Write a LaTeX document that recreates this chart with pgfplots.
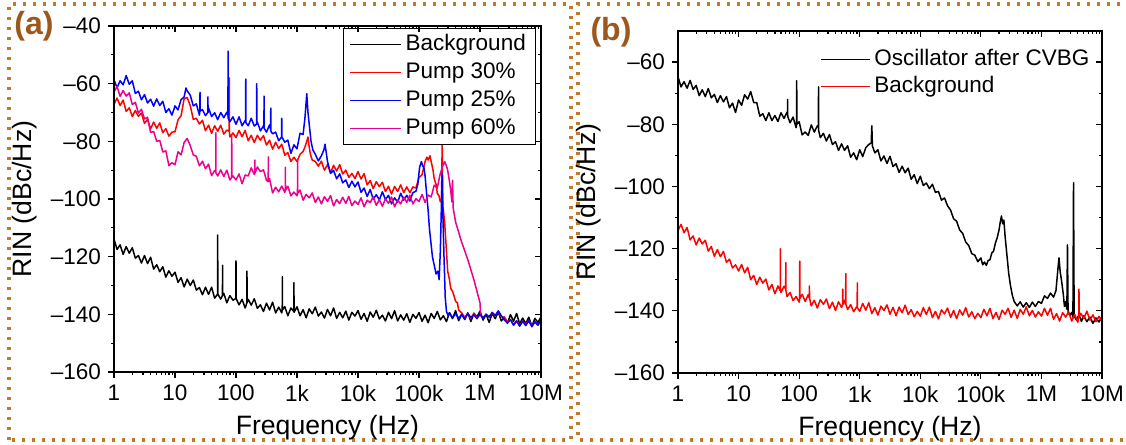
\documentclass[border=0pt]{standalone}
\usepackage{fontspec}
\setmainfont{Liberation Sans}
\usepackage{pgfplots}
\pgfplotsset{compat=1.18}
\definecolor{panelbrown}{RGB}{156,88,28}
\definecolor{dotbrown}{RGB}{192,122,42}
\pgfplotsset{
  rinbase/.style={
    scale only axis,
    xmin=0, xmax=7,
    xtick={0,1,2,3,4,5,6,7},
    minor xtick={0.301,0.477,0.602,0.699,0.778,0.845,0.903,0.954,
      1.301,1.477,1.602,1.699,1.778,1.845,1.903,1.954,
      2.301,2.477,2.602,2.699,2.778,2.845,2.903,2.954,
      3.301,3.477,3.602,3.699,3.778,3.845,3.903,3.954,
      4.301,4.477,4.602,4.699,4.778,4.845,4.903,4.954,
      5.301,5.477,5.602,5.699,5.778,5.845,5.903,5.954,
      6.301,6.477,6.602,6.699,6.778,6.845,6.903,6.954},
    minor y tick num=1,
    major tick length=3pt,
    minor tick length=1.6pt,
    axis line style={line width=0.7pt},
    every tick/.append style={line width=0.6pt, black},
    tick label style={font=\fontsize{11.25}{13}\selectfont},
    /pgf/number format/assume math mode=true,
  },
  rinmain/.style={rinbase, xtick pos=bottom, ytick pos=left, tick align=outside,
    xticklabels={1,10,100,1k,10k,100k,1M,10M},
    label style={font=\fontsize{13.3}{15}\selectfont},
    xlabel={Frequency (Hz)}, ylabel={RIN (dBc/Hz)},
    every axis plot/.append style={line width=0.75pt, line join=round},
  },
  rinmirror/.style={rinbase, xtick pos=top, ytick pos=right, tick align=inside,
    xticklabels={}, yticklabels={}},
}
\begin{document}
\begin{tikzpicture}
\useasboundingbox (0,0) rectangle (563pt,222.5pt);
% dotted frames
\draw[dotbrown, line width=1.6pt, dash pattern=on 1.6pt off 3.4pt] (4.5pt,2.5pt) rectangle (285.5pt,220.5pt);
\draw[dotbrown, line width=1.6pt, dash pattern=on 1.6pt off 3.4pt] (565pt,220.5pt) -- (289pt,220.5pt) -- (289pt,2.5pt) -- (565pt,2.5pt);
\node[font=\fontsize{16}{18}\selectfont\bfseries, text=panelbrown] at (17pt,209.5pt) {(a)};
\node[font=\fontsize{16}{18}\selectfont\bfseries, text=panelbrown] at (305.5pt,206.5pt) {(b)};

% ---------------- panel (a)
\begin{axis}[rinmain, at={(57pt,36.5pt)}, anchor=south west, width=213.5pt, height=173pt,
  ymin=-160, ymax=-40, ytick={-160,-140,...,-40},
  yticklabels={--160,--140,--120,--100,--80,--60,--40},
  legend image code/.code={\draw[#1, line width=0.5pt] (0pt,0pt) -- (25.5pt,0pt);},
  legend style={at={(0.989,0.9934)}, anchor=north east, draw=black, line width=0.5pt,
    inner xsep=3pt, inner ysep=1pt,
    nodes={inner sep=2pt, text height=8.1pt, text depth=1.9pt},
    font=\fontsize{11.25}{13}\selectfont, cells={anchor=west}},
  legend entries={Background, Pump 30\%, Pump 25\%, Pump 60\%}]
\addplot[black] coordinates {(0.00,-113.9)(0.05,-117.5)(0.10,-115.9)(0.15,-119.2)(0.20,-116.5)(0.25,-118.8)(0.30,-116.9)(0.35,-120.5)(0.40,-119.6)(0.45,-122.2)(0.50,-119.6)(0.55,-122.4)(0.60,-120.2)(0.65,-124.3)(0.70,-122.8)(0.75,-125.2)(0.80,-123.5)(0.85,-127.1)(0.90,-124.9)(0.95,-126.8)(1.00,-125.4)(1.05,-128.9)(1.10,-127.3)(1.15,-130.5)(1.20,-127.8)(1.25,-130.0)(1.30,-128.1)(1.35,-131.6)(1.40,-130.7)(1.45,-133.2)(1.50,-130.6)(1.55,-133.1)(1.60,-130.6)(1.65,-134.4)(1.698,-133.0)(1.70,-112.5)(1.702,-133.0)(1.75,-134.7)(1.778,-133.5)(1.78,-123)(1.782,-133.5)(1.80,-132.7)(1.85,-136.0)(1.90,-133.5)(1.95,-135.1)(1.998,-134.5)(2.00,-121.5)(2.002,-134.5)(2.05,-136.7)(2.10,-134.8)(2.15,-137.8)(2.178,-136)(2.18,-125)(2.182,-136)(2.20,-134.8)(2.25,-136.8)(2.30,-134.6)(2.35,-137.9)(2.40,-136.7)(2.45,-139.0)(2.50,-136.1)(2.55,-138.5)(2.60,-135.8)(2.65,-139.5)(2.70,-137.5)(2.75,-139.5)(2.758,-138.5)(2.76,-127)(2.762,-138.5)(2.80,-137.3)(2.85,-140.5)(2.90,-137.8)(2.948,-139)(2.95,-129)(2.952,-139.3)(3.00,-137.4)(3.05,-140.5)(3.10,-138.4)(3.15,-141.2)(3.20,-138.1)(3.25,-139.8)(3.30,-137.5)(3.35,-140.6)(3.40,-139.2)(3.45,-141.3)(3.50,-138.3)(3.55,-140.5)(3.60,-137.8)(3.65,-141.4)(3.70,-139.3)(3.75,-141.2)(3.80,-138.9)(3.85,-142.0)(3.90,-139.3)(3.95,-140.6)(4.00,-138.7)(4.05,-141.7)(4.10,-139.7)(4.15,-142.4)(4.20,-139.2)(4.25,-141.0)(4.30,-138.6)(4.35,-141.6)(4.40,-140.3)(4.45,-142.3)(4.50,-139.3)(4.55,-141.5)(4.60,-138.7)(4.65,-142.3)(4.70,-140.2)(4.75,-142.0)(4.80,-139.8)(4.85,-142.8)(4.90,-140.0)(4.95,-141.4)(5.00,-139.4)(5.05,-142.4)(5.10,-140.3)(5.15,-142.9)(5.20,-139.7)(5.25,-141.4)(5.30,-139.0)(5.35,-141.9)(5.40,-140.5)(5.45,-142.5)(5.50,-139.4)(5.55,-141.5)(5.60,-138.7)(5.65,-142.2)(5.70,-140.0)(5.75,-141.8)(5.80,-139.5)(5.85,-142.5)(5.90,-139.6)(5.95,-140.9)(6.00,-138.9)(6.05,-142.0)(6.10,-140.0)(6.15,-142.8)(6.20,-139.7)(6.25,-141.5)(6.30,-139.2)(6.35,-142.3)(6.40,-141.0)(6.45,-143.1)(6.50,-140.1)(6.55,-142.4)(6.60,-139.7)(6.65,-143.3)(6.70,-141.3)(6.75,-143.2)(6.80,-141.0)(6.85,-144.1)(6.90,-141.4)(6.95,-142.8)(7.00,-140.9)};
\addplot[red] coordinates {(0.00,-67.2)(0.05,-65.0)(0.10,-67.6)(0.15,-65.7)(0.20,-69.6)(0.25,-68.4)(0.30,-71.4)(0.35,-69.3)(0.40,-71.3)(0.45,-70.2)(0.50,-73.8)(0.55,-72.4)(0.60,-75.7)(0.65,-73.3)(0.70,-75.5)(0.75,-73.6)(0.80,-77.0)(0.85,-75.6)(0.90,-78.2)(0.95,-76.8)(1.00,-76.7)(1.05,-72.5)(1.10,-71.1)(1.15,-65.2)(1.20,-64.8)(1.25,-67.6)(1.30,-72.4)(1.35,-72.0)(1.40,-74.0)(1.45,-72.7)(1.50,-76.3)(1.55,-74.4)(1.60,-77.2)(1.65,-74.6)(1.70,-76.5)(1.75,-74.4)(1.80,-77.5)(1.85,-76.1)(1.888,-76.5)(1.89,-58)(1.892,-77)(1.90,-78.5)(1.95,-77.1)(2.00,-78.7)(2.05,-76.2)(2.10,-78.4)(2.15,-76.2)(2.20,-79.8)(2.25,-77.9)(2.30,-80.4)(2.35,-77.9)(2.40,-79.6)(2.45,-78.0)(2.50,-81.3)(2.55,-79.6)(2.60,-82.7)(2.65,-80.3)(2.70,-82.5)(2.75,-81.0)(2.80,-84.8)(2.85,-83.9)(2.90,-87.0)(2.95,-85.5)(3.00,-87.0)(3.05,-84.5)(3.10,-83.5)(3.13,-82)(3.16,-80)(3.18,-78.5)(3.20,-82)(3.22,-84.5)(3.25,-86.5)(3.30,-87.0)(3.35,-88.6)(3.40,-86.9)(3.45,-90.0)(3.50,-88.1)(3.55,-91.0)(3.60,-88.3)(3.65,-90.3)(3.70,-88.1)(3.75,-91.3)(3.80,-90.0)(3.85,-92.5)(3.90,-91.1)(3.95,-92.9)(4.00,-90.5)(4.05,-93.1)(4.10,-91.2)(4.15,-95.1)(4.20,-93.6)(4.25,-96.4)(4.30,-94.0)(4.35,-95.7)(4.40,-94.2)(4.45,-97.4)(4.50,-95.6)(4.55,-98.3)(4.60,-95.6)(4.65,-97.4)(4.70,-95.1)(4.75,-97.8)(4.80,-95.8)(4.85,-97.8)(4.90,-95.8)(4.95,-96.2)(5.00,-92.5)(5.05,-91.6)(5.10,-87.0)(5.13,-85.5)(5.15,-86.5)(5.18,-85)(5.20,-87)(5.23,-90)(5.25,-93)(5.28,-95)(5.30,-98)(5.33,-99)(5.35,-101)(5.37,-100)(5.38,-80)(5.39,-102)(5.42,-108)(5.45,-118)(5.47,-125)(5.50,-128)(5.52,-131)(5.55,-132)(5.58,-134)(5.60,-135.5)(5.63,-136)(5.65,-138.5)(5.70,-139.5)(5.75,-141.0)(5.80,-140.0)(5.85,-141.3)(5.90,-139.8)(5.95,-141.0)(6.00,-140.2)(6.05,-141.2)(6.10,-139.9)(6.15,-140.8)(6.20,-139.6)(6.25,-140.5)(6.30,-139.0)(6.35,-140.8)(6.40,-141.0)(6.45,-142.6)(6.50,-141.8)(6.55,-143.6)(6.60,-142.2)(6.65,-143.9)(6.70,-142.4)(6.75,-143.5)(6.80,-142.1)(6.85,-144.0)(6.90,-142.5)(6.95,-143.8)(7.00,-142.2)};
\addplot[blue] coordinates {(0.00,-58.7)(0.05,-61.4)(0.10,-59.0)(0.15,-60.4)(0.20,-57.2)(0.25,-60.2)(0.30,-59.0)(0.35,-63.4)(0.40,-62.6)(0.45,-65.6)(0.50,-63.8)(0.55,-66.7)(0.60,-65.4)(0.65,-67.8)(0.70,-65.3)(0.75,-67.6)(0.80,-66.1)(0.85,-70.0)(0.90,-68.7)(0.95,-70.9)(1.00,-67.7)(1.05,-69.1)(1.10,-65.5)(1.15,-64.6)(1.18,-61.5)(1.20,-62.5)(1.25,-64.0)(1.30,-67.7)(1.35,-67.0)(1.40,-70.9)(1.408,-69.5)(1.41,-63)(1.412,-69.5)(1.45,-69.0)(1.50,-71.1)(1.538,-70)(1.54,-64.6)(1.542,-70)(1.55,-68.4)(1.60,-71.4)(1.65,-70.1)(1.70,-72.5)(1.75,-70.0)(1.80,-71.8)(1.85,-69.9)(1.868,-71)(1.87,-48.7)(1.872,-72)(1.90,-73.2)(1.95,-71.5)(2.00,-74.1)(2.05,-71.5)(2.10,-74.6)(2.15,-72.8)(2.158,-73)(2.16,-58.4)(2.162,-73.5)(2.20,-74.6)(2.25,-72.0)(2.30,-74.7)(2.338,-74)(2.34,-60)(2.342,-74)(2.35,-73.3)(2.40,-76.4)(2.45,-74.6)(2.458,-75)(2.46,-64.3)(2.462,-75.5)(2.50,-76.8)(2.55,-74.3)(2.568,-76)(2.57,-68.5)(2.572,-76.5)(2.60,-77.4)(2.65,-76.8)(2.70,-79.8)(2.748,-78.5)(2.75,-72)(2.752,-78.5)(2.80,-80.3)(2.85,-79.6)(2.90,-84.2)(2.95,-81.2)(3.00,-82.6)(3.05,-77.2)(3.10,-77.6)(3.13,-72)(3.16,-63.5)(3.18,-70)(3.20,-74)(3.23,-80)(3.26,-83)(3.30,-84.5)(3.35,-86.8)(3.40,-85.0)(3.44,-83)(3.46,-81)(3.48,-84)(3.50,-87.0)(3.55,-91.1)(3.60,-90.1)(3.65,-93.0)(3.70,-91.3)(3.75,-94.4)(3.80,-93.4)(3.85,-96.0)(3.90,-93.8)(3.95,-95.8)(4.00,-94.1)(4.05,-97.7)(4.10,-96.2)(4.15,-99.1)(4.20,-96.7)(4.25,-100.1)(4.30,-98.5)(4.35,-100.3)(4.40,-97.5)(4.45,-100.2)(4.50,-98.7)(4.55,-101.7)(4.60,-99.6)(4.65,-101.1)(4.70,-98.0)(4.75,-100.4)(4.80,-98.7)(4.85,-100.7)(4.90,-97.8)(4.95,-97.3)(4.98,-95)(5.01,-89)(5.04,-87)(5.06,-88.5)(5.08,-89)(5.10,-92)(5.12,-97)(5.15,-104)(5.17,-110)(5.20,-116)(5.22,-120)(5.25,-123)(5.28,-126)(5.31,-125)(5.33,-128)(5.35,-118)(5.37,-100)(5.38,-91)(5.39,-104)(5.41,-120)(5.43,-134)(5.45,-139)(5.48,-140.5)(5.50,-139.5)(5.55,-141.2)(5.60,-139.8)(5.65,-141.4)(5.70,-140.0)(5.75,-141.6)(5.80,-139.7)(5.85,-141.1)(5.90,-140.2)(5.95,-141.5)(6.00,-139.9)(6.05,-141.3)(6.10,-140.1)(6.15,-141.0)(6.20,-139.3)(6.25,-140.4)(6.30,-138.8)(6.35,-140.5)(6.40,-142.0)(6.45,-143.0)(6.50,-141.8)(6.55,-143.8)(6.60,-142.3)(6.65,-144.1)(6.70,-142.4)(6.75,-143.9)(6.80,-142.2)(6.85,-144.3)(6.90,-142.6)(6.95,-143.7)(7.00,-141.5)};
\addplot[magenta] coordinates {(0.00,-62.9)(0.05,-60.9)(0.10,-64.4)(0.15,-62.4)(0.20,-64.3)(0.25,-63.2)(0.30,-67.2)(0.35,-66.5)(0.40,-70.2)(0.45,-68.9)(0.50,-72.2)(0.55,-71.7)(0.60,-76.9)(0.65,-76.6)(0.70,-80.0)(0.75,-79.7)(0.80,-83.7)(0.85,-83.3)(0.90,-88.4)(0.95,-87.4)(1.00,-88.1)(1.05,-83.6)(1.10,-84.7)(1.15,-80.4)(1.20,-79.0)(1.25,-81.5)(1.30,-84.7)(1.35,-85.2)(1.40,-88.5)(1.45,-86.9)(1.50,-89.5)(1.55,-87.9)(1.60,-91.9)(1.65,-90.1)(1.668,-90.5)(1.67,-77)(1.672,-91)(1.70,-92.0)(1.75,-89.9)(1.80,-92.2)(1.85,-90.0)(1.90,-93.4)(1.928,-92.5)(1.93,-78)(1.932,-92.5)(1.95,-92.0)(2.00,-93.4)(2.05,-91.3)(2.10,-94.7)(2.15,-91.7)(2.20,-92.0)(2.25,-89.2)(2.30,-91.5)(2.308,-91)(2.31,-86.5)(2.312,-91)(2.35,-88.9)(2.40,-90.5)(2.45,-89.9)(2.50,-93.5)(2.528,-94)(2.53,-85.4)(2.532,-94)(2.55,-92.9)(2.60,-97.9)(2.65,-95.9)(2.70,-97.5)(2.75,-95.5)(2.80,-97.7)(2.808,-97)(2.81,-89)(2.812,-97)(2.85,-95.6)(2.90,-98.9)(2.95,-97.6)(3.00,-98.9)(3.008,-98)(3.01,-86.5)(3.012,-98)(3.05,-96.9)(3.10,-100.4)(3.15,-98.4)(3.20,-99.6)(3.25,-97.9)(3.30,-101.2)(3.35,-99.3)(3.40,-101.7)(3.45,-99.2)(3.50,-100.8)(3.55,-98.8)(3.60,-102.4)(3.65,-100.2)(3.70,-101.6)(3.75,-99.4)(3.80,-101.5)(3.85,-99.1)(3.90,-102.3)(3.95,-100.7)(4.00,-101.9)(4.05,-99.6)(4.10,-102.7)(4.15,-100.4)(4.20,-101.3)(4.25,-99.2)(4.30,-102.2)(4.35,-100.2)(4.40,-102.5)(4.45,-99.9)(4.50,-101.5)(4.55,-99.3)(4.60,-102.7)(4.65,-100.4)(4.70,-101.7)(4.75,-99.3)(4.80,-101.2)(4.85,-98.7)(4.90,-101.7)(4.95,-99.9)(5.00,-100.9)(5.05,-98.4)(5.10,-101.2)(5.15,-98.6)(5.20,-99.3)(5.25,-95.2)(5.30,-96.2)(5.34,-92)(5.38,-89)(5.42,-87)(5.45,-88.5)(5.47,-90)(5.50,-94)(5.52,-97)(5.54,-101)(5.55,-93.5)(5.56,-103)(5.60,-108)(5.65,-111.5)(5.70,-115)(5.75,-118)(5.80,-121)(5.85,-124.5)(5.90,-128)(5.95,-132)(6.00,-136)(6.01,-140)};
\end{axis}
\begin{axis}[rinmirror, at={(57pt,36.5pt)}, anchor=south west, width=213.5pt, height=173pt,
  ymin=-160, ymax=-40, ytick={-160,-140,...,-40}]
\end{axis}

% ---------------- panel (b)
\begin{axis}[rinmain, at={(339pt,36pt)}, anchor=south west, width=212pt, height=171pt,
  ymin=-160, ymax=-50, ytick={-160,-140,...,-60},
  yticklabels={--160,--140,--120,--100,--80,--60},
  legend image code/.code={\draw[#1, line width=0.5pt] (0pt,0pt) -- (24.5pt,0pt);},
  legend style={at={(0.3208,0.9675)}, anchor=north west, draw=none, fill=none,
    inner xsep=3pt, inner ysep=2pt,
    nodes={inner sep=2pt, text height=7.7pt, text depth=1.5pt},
    font=\fontsize{11.25}{13}\selectfont, cells={anchor=west}},
  legend entries={Oscillator after CVBG, Background}]
\addplot[black] coordinates {(0.00,-64.7)(0.05,-68.0)(0.10,-66.3)(0.15,-68.4)(0.20,-65.9)(0.25,-68.8)(0.30,-67.5)(0.35,-70.8)(0.40,-68.9)(0.45,-71.1)(0.50,-68.5)(0.55,-71.5)(0.60,-70.4)(0.65,-73.0)(0.70,-70.8)(0.75,-72.8)(0.80,-71.1)(0.85,-74.7)(0.90,-73.2)(0.95,-76.2)(1.00,-72.2)(1.05,-73.9)(1.10,-70.5)(1.15,-71.9)(1.20,-69.5)(1.25,-73.0)(1.30,-73.0)(1.35,-77.4)(1.40,-76.6)(1.45,-78.8)(1.50,-76.3)(1.55,-78.8)(1.60,-77.2)(1.65,-79.1)(1.70,-76.3)(1.75,-78.1)(1.80,-76.1)(1.808,-77)(1.81,-72)(1.812,-77.5)(1.85,-79.5)(1.90,-77.7)(1.95,-81.1)(1.958,-80)(1.96,-66)(1.962,-80)(2.00,-79.2)(2.05,-83.4)(2.10,-82.5)(2.15,-83.6)(2.20,-80.2)(2.25,-82.5)(2.30,-80.5)(2.318,-81)(2.32,-68)(2.322,-82)(2.35,-84.3)(2.40,-82.9)(2.45,-85.4)(2.50,-83.3)(2.55,-86.5)(2.60,-85.6)(2.65,-88.4)(2.70,-86.3)(2.75,-88.4)(2.80,-86.9)(2.85,-90.6)(2.90,-89.2)(2.95,-91.4)(3.00,-88.2)(3.05,-90.4)(3.10,-87.5)(3.15,-86.5)(3.19,-86)(3.20,-80.5)(3.21,-87)(3.25,-89.2)(3.30,-88.2)(3.35,-91.8)(3.40,-90.2)(3.45,-92.6)(3.50,-90.3)(3.55,-93.6)(3.60,-92.7)(3.65,-95.5)(3.70,-93.5)(3.75,-95.6)(3.80,-94.1)(3.85,-97.7)(3.90,-96.2)(3.95,-99.1)(4.00,-96.7)(4.05,-99.7)(4.10,-98.9)(4.15,-100.7)(4.20,-99.3)(4.25,-101.9)(4.30,-101.6)(4.35,-104.4)(4.40,-103.7)(4.45,-106.2)(4.50,-107.6)(4.55,-110.4)(4.60,-111.2)(4.65,-114.0)(4.70,-115.1)(4.75,-117.9)(4.80,-119.0)(4.85,-121.6)(4.90,-122.1)(4.95,-124.2)(5.00,-123.0)(5.03,-125.2)(5.06,-124.3)(5.09,-125.4)(5.12,-123.8)(5.15,-123.6)(5.18,-121.4)(5.21,-120.8)(5.24,-118.2)(5.27,-116.5)(5.30,-114.0)(5.32,-111.5)(5.34,-109.5)(5.36,-112.0)(5.38,-110.8)(5.40,-116.0)(5.43,-122.0)(5.46,-128.0)(5.49,-132.0)(5.52,-135.0)(5.55,-137.0)(5.60,-138.4)(5.65,-137.1)(5.70,-138.8)(5.75,-137.4)(5.80,-138.9)(5.85,-137.2)(5.90,-138.6)(5.95,-137.0)(6.00,-137.6)(6.05,-135.2)(6.10,-136.0)(6.15,-134.3)(6.20,-135.6)(6.24,-133.5)(6.27,-127.0)(6.29,-123.0)(6.31,-127.5)(6.33,-130.0)(6.36,-134.5)(6.38,-138.6)(6.40,-137.0)(6.42,-139.5)(6.43,-118.8)(6.44,-140.5)(6.47,-141.5)(6.50,-140.5)(6.52,-142.0)(6.53,-98.8)(6.54,-141.8)(6.58,-143.0)(6.62,-141.2)(6.66,-143.4)(6.70,-141.6)(6.75,-143.5)(6.80,-142.0)(6.85,-144.0)(6.90,-142.3)(6.95,-143.6)(7.00,-141.8)};
\addplot[red] coordinates {(0.00,-114.2)(0.05,-112.2)(0.10,-114.9)(0.15,-113.2)(0.20,-117.2)(0.25,-115.9)(0.30,-118.8)(0.35,-116.6)(0.40,-118.5)(0.45,-117.3)(0.50,-120.8)(0.55,-119.3)(0.60,-122.5)(0.65,-120.3)(0.70,-122.6)(0.75,-120.9)(0.80,-124.4)(0.85,-123.4)(0.90,-126.2)(0.95,-125.2)(1.00,-127.2)(1.05,-125.1)(1.10,-127.8)(1.15,-126.0)(1.20,-130.0)(1.25,-128.6)(1.30,-131.5)(1.35,-129.2)(1.40,-131.1)(1.45,-129.8)(1.50,-133.3)(1.55,-131.5)(1.60,-134.5)(1.65,-132.0)(1.688,-133.5)(1.69,-120)(1.692,-133.5)(1.70,-134.1)(1.75,-132.1)(1.778,-133)(1.78,-124.5)(1.782,-133.5)(1.80,-135.4)(1.85,-134.1)(1.90,-136.7)(1.95,-135.4)(2.00,-137.2)(2.008,-136)(2.01,-124)(2.012,-136)(2.05,-134.7)(2.10,-137.0)(2.15,-134.8)(2.168,-136)(2.17,-132)(2.172,-136)(2.20,-138.4)(2.25,-136.6)(2.30,-139.1)(2.35,-136.4)(2.40,-137.9)(2.45,-136.2)(2.50,-139.3)(2.55,-137.2)(2.60,-139.9)(2.65,-137.1)(2.70,-138.9)(2.718,-138)(2.72,-133)(2.722,-138)(2.75,-136.6)(2.768,-138)(2.77,-128)(2.772,-138)(2.80,-139.6)(2.85,-138.0)(2.90,-140.3)(2.95,-138.7)(2.958,-139)(2.96,-131)(2.962,-139)(3.00,-140.2)(3.05,-137.6)(3.10,-139.8)(3.15,-137.4)(3.20,-140.9)(3.25,-139.0)(3.30,-141.4)(3.35,-138.5)(3.40,-139.9)(3.45,-138.1)(3.50,-141.1)(3.55,-138.9)(3.60,-141.6)(3.65,-138.8)(3.70,-140.6)(3.75,-138.2)(3.80,-141.2)(3.85,-139.6)(3.90,-141.9)(3.95,-140.2)(4.00,-141.7)(4.05,-139.0)(4.10,-141.2)(4.15,-138.8)(4.20,-142.2)(4.25,-140.2)(4.30,-142.6)(4.35,-139.7)(4.40,-141.0)(4.45,-139.1)(4.50,-142.1)(4.55,-139.9)(4.60,-142.5)(4.65,-139.7)(4.70,-141.4)(4.75,-139.0)(4.80,-142.0)(4.85,-140.3)(4.90,-142.5)(4.95,-140.8)(5.00,-142.2)(5.05,-139.5)(5.10,-141.6)(5.15,-139.2)(5.20,-142.5)(5.25,-140.5)(5.30,-142.8)(5.35,-139.8)(5.40,-141.1)(5.45,-139.2)(5.50,-142.1)(5.55,-139.8)(5.60,-142.4)(5.65,-139.5)(5.70,-141.1)(5.75,-138.7)(5.80,-141.6)(5.85,-139.9)(5.90,-142.0)(5.95,-140.3)(6.00,-141.7)(6.05,-139.2)(6.10,-141.4)(6.15,-139.2)(6.20,-142.7)(6.25,-140.9)(6.30,-143.3)(6.35,-140.6)(6.40,-142.0)(6.45,-140.3)(6.50,-143.3)(6.55,-141.1)(6.60,-143.7)(6.618,-142)(6.62,-133)(6.622,-142)(6.65,-140.8)(6.70,-142.5)(6.75,-140.1)(6.80,-143.0)(6.85,-141.3)(6.90,-143.5)(6.95,-141.8)(7.00,-143.2)};
\end{axis}
\begin{axis}[rinmirror, at={(339pt,36pt)}, anchor=south west, width=212pt, height=171pt,
  ymin=-160, ymax=-50, ytick={-160,-140,...,-60}]
\end{axis}
\end{tikzpicture}
\end{document}
